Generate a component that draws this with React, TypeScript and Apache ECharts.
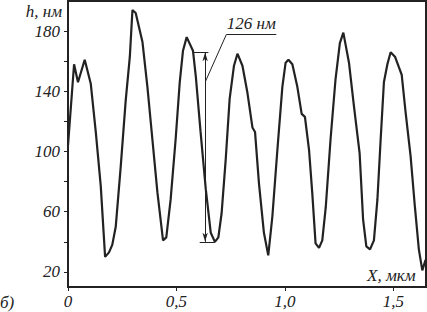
import React, { useEffect, useRef } from "react";
import * as echarts from "echarts";

const xValues = [
  0.0, 0.028, 0.046, 0.077, 0.105, 0.128, 0.151, 0.171, 0.189, 0.204, 0.22, 0.243, 0.266, 0.285,
  0.297, 0.312, 0.343, 0.366, 0.389, 0.412, 0.438, 0.453, 0.473, 0.496, 0.515, 0.53, 0.547,
  0.576, 0.589, 0.611, 0.635, 0.658, 0.677, 0.693, 0.708, 0.727, 0.745, 0.765, 0.781, 0.804,
  0.827, 0.85, 0.862, 0.88, 0.903, 0.923, 0.942, 0.965, 0.988, 1.003, 1.016, 1.034, 1.057,
  1.077, 1.092, 1.111, 1.126, 1.141, 1.157, 1.172, 1.188, 1.21, 1.233, 1.253, 1.269, 1.295,
  1.318, 1.344, 1.36, 1.375, 1.392, 1.41, 1.426, 1.441, 1.456, 1.472, 1.487, 1.507, 1.525,
  1.538, 1.556, 1.579, 1.599, 1.617, 1.633, 1.648,
];
const hValues = [
  104, 158, 146, 161, 145, 113, 77, 30, 33, 38, 50, 90, 134, 163,
  194, 192, 173, 143, 108, 73, 41, 43, 68, 108, 146, 167, 176,
  167, 150, 113, 75, 46, 40, 43, 59, 95, 135, 157, 165, 157,
  139, 116, 113, 79, 46, 31, 57, 101, 143, 159, 161, 158, 143,
  125, 123, 101, 72, 39, 36, 41, 63, 108, 148, 172, 179, 159,
  130, 99, 55, 37, 35, 41, 68, 108, 146, 158, 166, 163, 156,
  151, 126, 97, 63, 35, 21, 28,
];
const yLabelValues = [20, 60, 100, 140, 180];
const yTickValues = [20, 40, 60, 80, 100, 120, 140, 160, 180];
const xLabelValues = [0, 0.5, 1.0, 1.5];

// annotation (data coordinates)
const annoX = 0.632;
const annoTop = 166;
const annoBottom = 40;
const annoText = "126 нм";

const FONT = '"Liberation Serif", "Times New Roman", "DejaVu Serif", serif';
const INK = "#222";

export default function App() {
  const ref = useRef<HTMLDivElement>(null);
  useEffect(() => {
    if (!ref.current) return;
    const chart = echarts.init(ref.current, undefined, { renderer: "svg" });
    const data = xValues.map((x, i) => [x, hValues[i]]);
    const textBase = { fontFamily: FONT, fontStyle: "italic", fontSize: 17, fill: INK };
    chart.setOption({
      animation: false,
      grid: {
        left: 68,
        right: 1,
        top: 1,
        bottom: 25,
        show: true,
        borderColor: INK,
        borderWidth: 2,
      },
      xAxis: {
        type: "value",
        min: 0,
        max: 1.65,
        splitLine: { show: false },
        axisLine: { show: true, onZero: false, lineStyle: { color: INK, width: 2 } },
        axisTick: { show: true, length: 4, customValues: xLabelValues, lineStyle: { color: INK } },
        axisLabel: {
          customValues: xLabelValues,
          margin: 6,
          fontFamily: FONT,
          fontStyle: "italic",
          fontSize: 17,
          color: INK,
          formatter: (v: number) => (v === 0 ? "0" : v.toFixed(1).replace(".", ",")),
        },
      },
      yAxis: {
        type: "value",
        min: 10,
        max: 200,
        splitLine: { show: false },
        axisLine: { show: true, onZero: false, lineStyle: { color: INK, width: 2 } },
        axisTick: { show: true, length: 4, customValues: yTickValues, lineStyle: { color: INK } },
        axisLabel: {
          customValues: yLabelValues,
          margin: 8,
          fontFamily: FONT,
          fontStyle: "italic",
          fontSize: 17,
          color: INK,
        },
      },
      series: [
        {
          type: "line",
          data,
          showSymbol: false,
          symbol: "none",
          lineStyle: { color: INK, width: 2.2 },
          markLine: {
            silent: true,
            symbol: "none",
            lineStyle: { type: "solid", color: INK, width: 1 },
            label: { show: false },
            data: [
              [{ coord: [0.576, annoTop] }, { coord: [0.647, annoTop] }],
              [{ coord: [0.607, annoBottom] }, { coord: [0.677, annoBottom] }],
              [
                { coord: [annoX, annoTop], symbol: "arrow", symbolSize: [4, 9] },
                { coord: [annoX, annoBottom], symbol: "arrow", symbolSize: [4, 9] },
              ],
              [{ coord: [0.634, 146.7] }, { coord: [0.73, 177.8] }],
              [
                {
                  coord: [0.73, 177.8],
                  label: {
                    show: true,
                    position: "insideMiddleTop",
                    formatter: annoText,
                    fontFamily: FONT,
                    fontStyle: "italic",
                    fontSize: 17,
                    color: INK,
                    distance: 2,
                  },
                },
                { coord: [0.96, 177.8] },
              ],
            ],
          },
        },
      ],
      graphic: [
        { type: "text", right: 427 - 62, top: 3, style: { ...textBase, text: "h, нм" } },
        { type: "text", left: 367, top: 267, style: { ...textBase, text: "X, мкм" } },
        { type: "text", left: 0, top: 294, style: { ...textBase, text: "б)" } },
      ],
    });
    return () => chart.dispose();
  }, []);
  return (
    <div
      ref={ref}
      style={{ position: "fixed", left: 0, top: 0, width: 427, height: 312, background: "#fff" }}
    />
  );
}
